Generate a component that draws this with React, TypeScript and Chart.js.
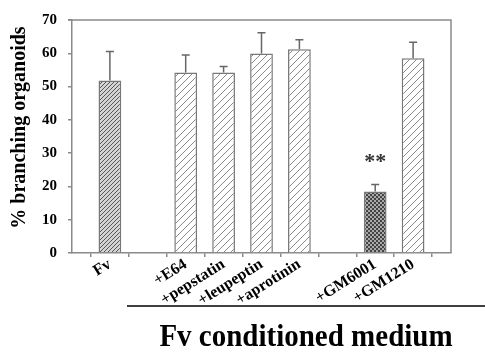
import React, { useEffect, useRef } from "react";
import { Chart, registerables } from "chart.js";

Chart.register(...registerables);

const categories = ["", "Fv", "", "+E64", "+pepstatin", "+leupeptin", "+aprotinin", "", "+GM6001", "+GM1210", ""];
const values = [null, 51.8, null, 54.2, 54.2, 59.9, 61.2, null, 18.5, 58.5, null];
const errorTops = [null, 60.5, null, 59.5, 56.0, 66.2, 64.1, null, 20.6, 63.3, null];
const patternKinds = ["none", "dense", "none", "light", "light", "light", "light", "none", "checker", "light", "none"];
const significance = [null, null, null, null, null, null, null, null, "**", null, null];
const significanceY = 28;
const yTicks = { min: 0, max: 70, step: 10 };
const yTitle = "% branching organoids";
const groupTitle = "Fv conditioned medium";

const SERIF = '"Liberation Serif", "Times New Roman", serif';

function makePattern(kind: string): CanvasPattern | string {
  const c = document.createElement("canvas");
  const ctx = c.getContext("2d")!;
  if (kind === "dense") {
    const s = 4;
    c.width = s; c.height = s;
    ctx.fillStyle = "#d4d4d4";
    ctx.fillRect(0, 0, s, s);
    ctx.strokeStyle = "#555";
    ctx.lineWidth = 1;
    ctx.beginPath();
    ctx.moveTo(0, s); ctx.lineTo(s, 0);
    ctx.moveTo(-1, 1); ctx.lineTo(1, -1);
    ctx.moveTo(s - 1, s + 1); ctx.lineTo(s + 1, s - 1);
    ctx.stroke();
  } else if (kind === "light") {
    const s = 7;
    c.width = s; c.height = s;
    ctx.fillStyle = "#fff";
    ctx.fillRect(0, 0, s, s);
    ctx.strokeStyle = "#8a8a8a";
    ctx.lineWidth = 1;
    ctx.beginPath();
    ctx.moveTo(0, s); ctx.lineTo(s, 0);
    ctx.moveTo(-1, 1); ctx.lineTo(1, -1);
    ctx.moveTo(s - 1, s + 1); ctx.lineTo(s + 1, s - 1);
    ctx.stroke();
  } else if (kind === "checker") {
    const s = 2;
    c.width = s * 2; c.height = s * 2;
    ctx.fillStyle = "#a8a8a8";
    ctx.fillRect(0, 0, s * 2, s * 2);
    ctx.fillStyle = "#444";
    ctx.fillRect(0, 0, s, s);
    ctx.fillRect(s, s, s, s);
  } else {
    return "rgba(0,0,0,0)";
  }
  return ctx.createPattern(c, "repeat")!;
}

const decorPlugin = {
  id: "decor",
  afterDatasetsDraw(chart: any) {
    const { ctx, chartArea, scales } = chart;
    const y = scales.y;
    const meta = chart.getDatasetMeta(0);
    ctx.save();
    // frame (top and right)
    ctx.strokeStyle = "#8a8a8a";
    ctx.lineWidth = 1.5;
    ctx.beginPath();
    ctx.moveTo(chartArea.left - 4, chartArea.top);
    ctx.lineTo(chartArea.right, chartArea.top);
    ctx.lineTo(chartArea.right, chartArea.bottom);
    ctx.stroke();
    // error bars
    ctx.strokeStyle = "#666";
    ctx.lineWidth = 1.5;
    errorTops.forEach((e, i) => {
      if (e == null || values[i] == null) return;
      const el = meta.data[i];
      const yt = y.getPixelForValue(e);
      ctx.beginPath();
      ctx.moveTo(el.x, el.y);
      ctx.lineTo(el.x, yt);
      ctx.moveTo(el.x - 4, yt);
      ctx.lineTo(el.x + 4, yt);
      ctx.stroke();
    });
    // significance
    ctx.fillStyle = "#333";
    ctx.font = `bold 22px ${SERIF}`;
    ctx.textAlign = "center";
    ctx.textBaseline = "middle";
    significance.forEach((s, i) => {
      if (!s) return;
      const el = meta.data[i];
      ctx.fillText(s, el.x, y.getPixelForValue(significanceY) + 3);
    });
    // y title
    ctx.save();
    ctx.translate(20, (chartArea.top + chartArea.bottom) / 2 - 9);
    ctx.rotate(-Math.PI / 2);
    ctx.fillStyle = "#000";
    ctx.font = `bold 20px ${SERIF}`;
    ctx.textAlign = "center";
    ctx.textBaseline = "middle";
    ctx.fillText(yTitle, 0, 0);
    ctx.restore();
    // group line and title
    ctx.strokeStyle = "#000";
    ctx.lineWidth = 1.5;
    ctx.beginPath();
    ctx.moveTo(127, 306);
    ctx.lineTo(chart.width, 306);
    ctx.stroke();
    ctx.save();
    ctx.translate(306, 346);
    ctx.scale(1, 1.1);
    ctx.fillStyle = "#000";
    ctx.font = `bold 29px ${SERIF}`;
    ctx.textAlign = "center";
    ctx.textBaseline = "alphabetic";
    ctx.fillText(groupTitle, 0, 0);
    ctx.restore();
    ctx.restore();
  },
};

export default function App() {
  const ref = useRef<HTMLCanvasElement>(null);
  useEffect(() => {
    const bg = patternKinds.map(makePattern);
    const chart = new Chart(ref.current!, {
      type: "bar",
      data: {
        labels: categories,
        datasets: [
          {
            data: values as any,
            backgroundColor: bg as any,
            borderColor: "#777",
            borderWidth: 1.5,
            barPercentage: 0.6,
            categoryPercentage: 1,
          },
        ],
      },
      options: {
        animation: false,
        responsive: false,
        devicePixelRatio: 1,
        layout: { padding: { top: 13, right: 34, left: 0, bottom: 0 } },
        plugins: { legend: { display: false }, tooltip: { enabled: false } },
        scales: {
          x: {
            offset: false,
            grid: { display: true, drawOnChartArea: false, drawTicks: true, tickLength: 4, color: "#8a8a8a", lineWidth: 1.5 },
            border: { color: "#8a8a8a", width: 1.5 },
            ticks: {
              autoSkip: false,
              minRotation: 32,
              maxRotation: 32,
              padding: -2,
              color: "#000",
              font: { family: SERIF, weight: "bold", size: 16 },
            },
            afterFit: (s: any) => { s.height = 352 - 253; },
          },
          y: {
            min: yTicks.min,
            max: yTicks.max,
            grid: { display: true, drawOnChartArea: false, drawTicks: true, tickLength: 4, color: "#8a8a8a", lineWidth: 1.5 },
            border: { color: "#8a8a8a", width: 1.5 },
            ticks: {
              stepSize: yTicks.step,
              padding: 11,
              color: "#000",
              font: { family: SERIF, weight: "bold", size: 15 },
            },
            afterFit: (s: any) => { s.width = 72; },
          },
        },
      } as any,
      plugins: [decorPlugin],
    });
    return () => chart.destroy();
  }, []);
  return (
    <div style={{ position: "fixed", left: 0, top: 0, width: 485, height: 352, background: "#fff" }}>
      <canvas ref={ref} width={485} height={352} style={{ width: 485, height: 352 }} />
    </div>
  );
}
